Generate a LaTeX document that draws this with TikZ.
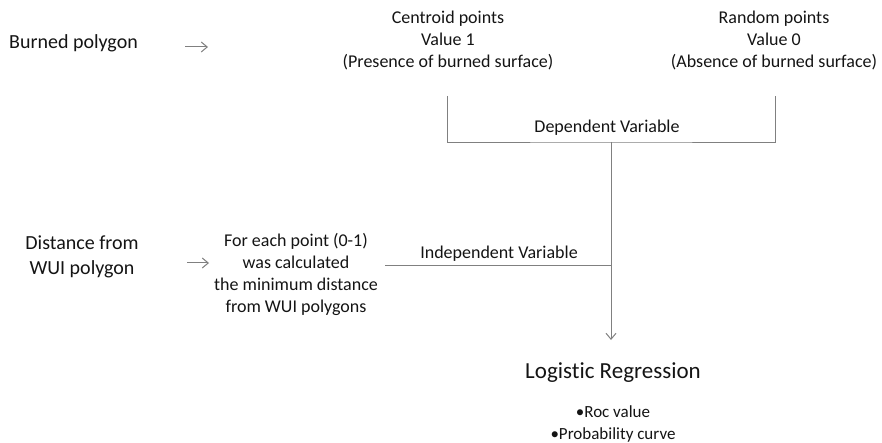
\documentclass[tikz,border=0pt]{standalone}
\usepackage{fontspec}
\setmainfont{Carlito}[Ligatures={NoCommon}]
\usetikzlibrary{arrows.meta, positioning}
\definecolor{txtgray}{HTML}{141414}
\definecolor{lngray}{HTML}{808080}
\tikzset{
    lbl/.style={inner sep=0pt, text=txtgray, align=center, font=\fontsize{18}{22}\selectfont},
    biglbl/.style={lbl, font=\fontsize{20}{24.5}\selectfont},
    thin arrow/.style={draw=lngray, line width=1pt, -{Straight Barb[length=6pt, width=10pt]}},
    bracket/.style={draw=lngray, line width=0.9pt}
}
\begin{document}
\begin{tikzpicture}[x=1pt, y=-1pt]
    \useasboundingbox (0,0) rectangle (882,443);
    % inputs
    \node[biglbl, anchor=west] (burned) at (9,43) {Burned polygon};
    \node[biglbl] (distance) at (82,257) {Distance from\\WUI polygon};
    \coordinate (a1s) at (185,47);
    \coordinate (a1e) at (208,47);
    \coordinate (a2s) at (187,263);
    \coordinate (a2e) at (209,263);
    \draw[thin arrow] (a1s) -- (a1e);
    \draw[thin arrow] (a2s) -- (a2e);
    % points
    \node[lbl] (centroid) at (448,41) {Centroid points\\Value 1\\(Presence of burned surface)};
    \node[lbl] (random) at (774,41) {Random points\\Value 0\\(Absence of burned surface)};
    \node[lbl] (foreach) at (296,274) {For each point (0-1)\\was calculated\\the minimum distance\\from WUI polygons};
    % bracket
    \coordinate (bl) at (447,96);
    \coordinate (br) at (775,96);
    \coordinate (bm) at (611,142);
    \draw[bracket] (bl) |- (bm) -| (br);
    \node[lbl] (dep) at (607,128) {Dependent Variable};
    % independent variable
    \coordinate (il) at (385,265);
    \coordinate (im) at (611,265);
    \draw[bracket] (il) -- (im);
    \node[lbl] (indep) at (499,254) {Independent Variable};
    % result
    \node[lbl, font=\fontsize{23}{28}\selectfont] (logit) at (613,373) {Logistic Regression};
    \node[lbl, font=\fontsize{17}{22}\selectfont] (items) at (613,424) {\textbullet Roc value\\\textbullet Probability curve};
    \coordinate (tip) at (611,340);
    \draw[thin arrow] (bm) -- (tip);
\end{tikzpicture}
\end{document}
